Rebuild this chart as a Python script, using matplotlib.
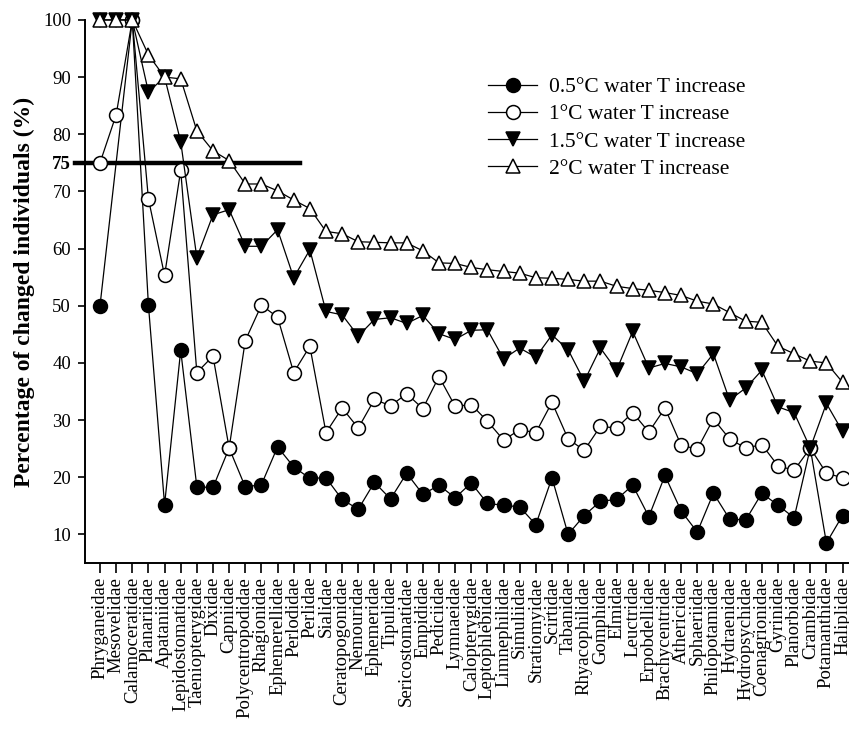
import numpy as np
import matplotlib
matplotlib.use("Agg")
import matplotlib.pyplot as plt

plt.rcParams['font.family'] = ['Liberation Serif', 'DejaVu Serif']

# families (x axis) and % of changed individuals per warming scenario
families = ["Phryganeidae", "Mesovelidae", "Calamoceratidae", "Planariidae", "Apataniidae",
            "Lepidostomatidae", "Taeniopterygidae", "Dixidae", "Capniidae", "Polycentropodidae",
            "Rhagionidae", "Ephemerellidae", "Perlodidae", "Perlidae", "Sialidae",
            "Ceratopogonidae", "Nemouridae", "Ephemeridae", "Tipulidae", "Sericostomatidae",
            "Empididae", "Pediciidae", "Lymnaeidae", "Calopterygidae", "Leptophlebiidae",
            "Limnephilidae", "Simuliidae", "Stratiomyidae", "Scirtidae", "Tabanidae",
            "Rhyacophilidae", "Gomphidae", "Elmidae", "Leuctridae", "Erpobdellidae",
            "Brachycentridae", "Athericidae", "Sphaeriidae", "Philopotamidae", "Hydraenidae",
            "Hydropsychidae", "Coenagrionidae", "Gyrinidae", "Planorbidae", "Crambidae",
            "Potamanthidae", "Haliplidae"]

t05 = [50, np.nan, 100, 50.1, 15.2, 42.2, 18.3, 18.2, 25.1, 18.3, 18.7, 25.3, 21.8, 19.8, 19.9,
       16.1, 14.4, 19.1, 16.2, 20.7, 17.0, 18.6, 16.4, 19.0, 15.4, 15.1, 14.8, 11.7, 19.9, 10.0,
       13.3, 15.8, 16.1, 18.6, 13.1, 20.3, 14.1, 10.4, 17.2, 12.7, 12.5, 17.2, 15.1, 12.9, 25.1,
       8.5, 13.3]
t10 = [75, 83.4, 100, 68.7, 55.3, 73.7, 38.3, 41.2, 25.1, 43.9, 50.1, 48.0, 38.3, 42.9, 27.8,
       32.1, 28.6, 33.6, 32.5, 34.6, 32.0, 37.6, 32.4, 32.7, 29.8, 26.5, 28.3, 27.8, 33.1, 26.7,
       24.7, 28.9, 28.6, 31.3, 27.9, 32.1, 25.6, 24.9, 30.2, 26.7, 25.1, 25.7, 22.0, 21.2, 25.1,
       20.7, 19.9]
t15 = [100, 100, 100, 87.4, 90, 78.7, 58.4, 65.9, 66.8, 60.4, 60.4, 63.3, 54.9, 59.8, 49.0,
       48.4, 44.7, 47.6, 47.9, 46.9, 48.3, 45.1, 44.1, 45.7, 45.8, 40.7, 42.6, 41.0, 44.9, 42.3,
       36.8, 42.6, 38.7, 45.5, 39.1, 39.9, 39.3, 38.1, 41.6, 33.5, 35.6, 38.7, 32.3, 31.3, 25.1,
       32.9, 28.0]
t20 = [100, 100, 100, 93.9, 90, 89.7, 80.6, 77.1, 75.4, 71.3, 71.3, 70.1, 68.5, 67.0, 63.0,
       62.6, 61.2, 61.1, 61.0, 61.0, 59.6, 57.5, 57.4, 56.7, 56.3, 56.0, 55.7, 54.9, 54.8, 54.6,
       54.3, 54.3, 53.4, 53.0, 52.7, 52.3, 51.8, 50.8, 50.3, 48.8, 47.3, 47.1, 42.9, 41.6, 40.3,
       40.0, 36.6]
labels = ["0.5°C water T increase", "1°C water T increase",
          "1.5°C water T increase", "2°C water T increase"]
threshold = 75

fig = plt.figure(figsize=(8.49, 7.33), dpi=100)
ax = fig.add_axes([0.1001, 0.232, 0.8999, 0.7408])

x = np.arange(len(families))
styles = [dict(marker='o', mfc='black'), dict(marker='o', mfc='white'),
          dict(marker='v', mfc='black'), dict(marker='^', mfc='white')]
for k, (vals, lab, st) in enumerate(zip([t05, t10, t15, t20], labels, styles)):
    v = np.array(vals, dtype=float)
    ok = ~np.isnan(v)
    ax.plot(x[ok], v[ok], color='black', lw=0.9, ms=10, mec='black', mew=1.1,
            label=lab, zorder=3 + k, clip_on=False, **st)

ax.plot([-0.013, 0.281], [threshold, threshold], color='black', lw=3.2,
        transform=ax.get_yaxis_transform(), clip_on=False, zorder=2)

ax.set_xlim(-0.93, 46.4)
ax.set_ylim(5, 100)
ax.set_yticks([10, 20, 30, 40, 50, 60, 70, threshold, 80, 90, 100])
ax.set_yticklabels(['10', '20', '30', '40', '50', '60', '70', '75', '80', '90', '100'])
for t in ax.get_yticklabels():
    if t.get_text() == '75':
        t.set_fontweight('bold')
ax.set_xticks(x)
ax.set_xticklabels(families, rotation=90, fontsize=13.5)
ax.tick_params(axis='y', direction='out', length=5, width=1.2, labelsize=13.5, pad=5)
ax.tick_params(axis='x', direction='out', length=7, width=1.2, pad=3)

for s in ['top', 'right']:
    ax.spines[s].set_visible(False)
for s in ['left', 'bottom']:
    ax.spines[s].set_linewidth(1.4)

ax.set_ylabel("Percentage of changed individuals (%)", fontsize=17, fontweight='bold', labelpad=6)

ax.legend(loc='upper left', bbox_to_anchor=(0.562, 0.9095), bbox_transform=fig.transFigure,
          frameon=False, fontsize=15.5, handlelength=2.3, handletextpad=0.55,
          labelspacing=0.33, borderpad=0)

fig.savefig("out.png", dpi=100)
